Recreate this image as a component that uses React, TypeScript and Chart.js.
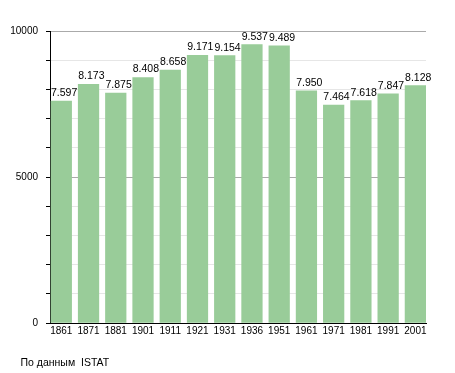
import React, { useEffect, useRef } from "react";
import { Chart, registerables } from "chart.js";

Chart.register(...registerables);

const categories = ["1861", "1871", "1881", "1901", "1911", "1921", "1931", "1936", "1951", "1961", "1971", "1981", "1991", "2001"];
const population = [7597, 8173, 7875, 8408, 8658, 9171, 9154, 9537, 9489, 7950, 7464, 7618, 7847, 8128];
const yTickLabels = [0, 5000, 10000];
const sourceNote = "По данным  ISTAT";

const FONT = "'Liberation Sans', Arial, sans-serif";
const BAR_W = 20.6;

function fmt(v: number): string {
  return String(v).replace(/\B(?=(\d{3})+(?!\d))/g, ".");
}

const valueLabels = {
  id: "valueLabels",
  afterDatasetsDraw(chart: any) {
    const ctx = chart.ctx;
    const meta = chart.getDatasetMeta(0);
    ctx.save();
    ctx.fillStyle = "#000";
    ctx.font = `10.5px ${FONT}`;
    ctx.textAlign = "left";
    ctx.textBaseline = "alphabetic";
    meta.data.forEach((bar: any, i: number) => {
      const left = bar.x - bar.width / 2;
      ctx.fillText(fmt(population[i]), left, bar.y - 5);
    });
    ctx.restore();
  },
};

const footer = {
  id: "footerNote",
  afterDraw(chart: any) {
    const ctx = chart.ctx;
    ctx.save();
    ctx.fillStyle = "#000";
    ctx.font = `10.5px ${FONT}`;
    ctx.textAlign = "left";
    ctx.textBaseline = "alphabetic";
    ctx.fillText(sourceNote, 20.5, 365.5);
    ctx.restore();
  },
};

export default function App() {
  const ref = useRef<HTMLCanvasElement | null>(null);
  useEffect(() => {
    if (!ref.current) return;
    const chart = new Chart(ref.current, {
      type: "bar",
      data: {
        datasets: [
          {
            data: population.map((v, i) => ({ x: i, y: v })),
            backgroundColor: "#99cc99",
            borderWidth: 0,
            barThickness: BAR_W,
          },
        ],
      },
      options: {
        animation: false,
        responsive: false,
        layout: { padding: { left: 0, right: 29, top: 31, bottom: 30 } },
        plugins: { legend: { display: false }, tooltip: { enabled: false } },
        scales: {
          x: {
            type: "linear",
            offset: false,
            min: -0.415,
            max: 13.39,
            afterBuildTicks: (scale: any) => {
              scale.ticks = categories.map((_, i) => ({ value: i }));
            },
            afterFit: (scale: any) => {
              scale.height = 20;
            },
            grid: { display: false, offset: false, drawTicks: false },
            border: { display: true, color: "#000", width: 1 },
            ticks: {
              autoSkip: false,
              maxRotation: 0,
              padding: 2,
              color: "#000",
              font: { family: FONT, size: 10 },
              callback: (v: any) => categories[v] ?? "",
            },
          },
          y: {
            min: 0,
            max: 10000,
            afterFit: (scale: any) => {
              scale.width = 50;
            },
            ticks: {
              stepSize: 1000,
              padding: 8,
              color: "#000",
              font: { family: FONT, size: 10 },
              callback: (v: any) => (yTickLabels.includes(v) ? String(v) : ""),
            },
            grid: {
              drawTicks: true,
              tickLength: 4,
              tickColor: "#000",
              color: (c: any) => {
                const v = c.tick ? c.tick.value : 0;
                if (v === 0) return "#000";
                if (v % 5000 === 0) return "#aaaaaa";
                return "#e6e6e6";
              },
            },
            border: { display: true, color: "#000", width: 1 },
          },
        },
      },
      plugins: [valueLabels, footer],
    });
    return () => chart.destroy();
  }, []);
  return (
    <canvas
      ref={ref}
      width={455}
      height={373}
      style={{ position: "absolute", left: 0, top: 0, width: 455, height: 373 }}
    />
  );
}
